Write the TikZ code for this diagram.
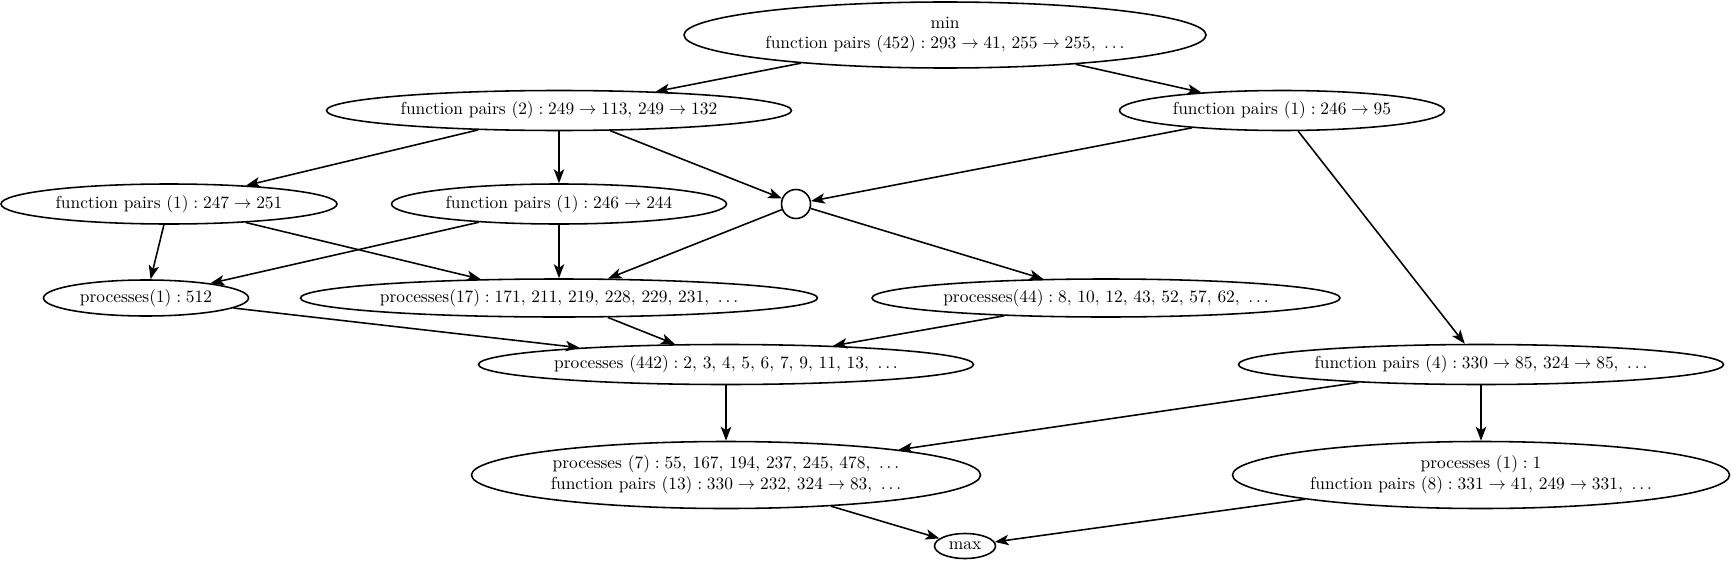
\documentclass[tikz,border=0pt]{standalone}
\usetikzlibrary{shapes.geometric,arrows.meta}
\newcommand{\cm}{{,}\ }
\begin{document}
\begin{tikzpicture}[x=0.575pt,y=-0.575pt,
  ell/.style 2 args={ellipse,draw,line width=0.9pt,inner sep=0pt,align=center,
     minimum width=#1*0.575pt,minimum height=#2*0.575pt},
  rnd/.style={circle,draw,line width=0.9pt,inner sep=0pt,minimum size=29*0.575pt},
  edge/.style={draw,line width=0.9pt,-{Stealth[length=8pt,width=6pt,inset=2pt]}}]
\useasboundingbox (0,0) rectangle (1732,562);
\node[ell={522}{66}] (min) at (945,35) {min\\function pairs $(452) : 293 \rightarrow 41\cm 255 \rightarrow 255\cm \ldots$};
\node[ell={465}{40}] (fp2) at (559,110.5) {function pairs $(2) : 249 \rightarrow 113\cm 249 \rightarrow 132$};
\node[ell={325}{40}] (fp1a) at (1282,110.5) {function pairs $(1) : 246 \rightarrow 95$};
\node[ell={336}{40}] (fp247) at (169,204) {function pairs $(1) : 247 \rightarrow 251$};
\node[ell={335}{40}] (fp246) at (559,204) {function pairs $(1) : 246 \rightarrow 244$};
\node[rnd] (c) at (796,204) {};
\node[ell={205}{36}] (p1) at (146,298) {processes$(1) : 512$};
\node[ell={517}{38}] (p17) at (559,298) {processes$(17) : 171\cm 211\cm 219\cm 228\cm 229\cm 231\cm \ldots$};
\node[ell={468}{38}] (p44) at (1106,298) {processes$(44) : 8\cm 10\cm 12\cm 43\cm 52\cm 57\cm 62\cm \ldots$};
\node[ell={495}{40}] (p442) at (726,364.5) {processes $(442) : 2\cm 3\cm 4\cm 5\cm 6\cm 7\cm 9\cm 11\cm 13\cm \ldots$};
\node[ell={485}{40}] (fp4) at (1481,364.5) {function pairs $(4) : 330 \rightarrow 85\cm 324 \rightarrow 85\cm \ldots$};
\node[ell={509}{67}] (p7) at (726,475) {processes $(7) : 55\cm 167\cm 194\cm 237\cm 245\cm 478\cm \ldots$\\function pairs $(13) : 330 \rightarrow 232\cm 324 \rightarrow 83\cm \ldots$};
\node[ell={497}{67}] (p1b) at (1481,475) {processes $(1) : 1$\\function pairs $(8) : 331 \rightarrow 41\cm 249 \rightarrow 331\cm \ldots$};
\node[ell={61}{25}] (max) at (965,546) {max};
\path[edge] (min) -- (fp2);
\path[edge] (min) -- (fp1a);
\path[edge] (fp2) -- (fp247);
\path[edge] (fp2) -- (fp246);
\path[edge] (fp2) -- (c);
\path[edge] (fp1a) -- (c);
\path[edge] (fp1a) -- (fp4);
\path[edge] (fp247) -- (p1);
\path[edge] (fp247) -- (p17);
\path[edge] (fp246) -- (p1);
\path[edge] (fp246) -- (p17);
\path[edge] (c) -- (p17);
\path[edge] (c) -- (p44);
\path[edge] (p1) -- (p442);
\path[edge] (p17) -- (p442);
\path[edge] (p44) -- (p442);
\path[edge] (p442) -- (p7);
\path[edge] (fp4) -- (p7);
\path[edge] (fp4) -- (p1b);
\path[edge] (p7) -- (max);
\path[edge] (p1b) -- (max);
\end{tikzpicture}
\end{document}
